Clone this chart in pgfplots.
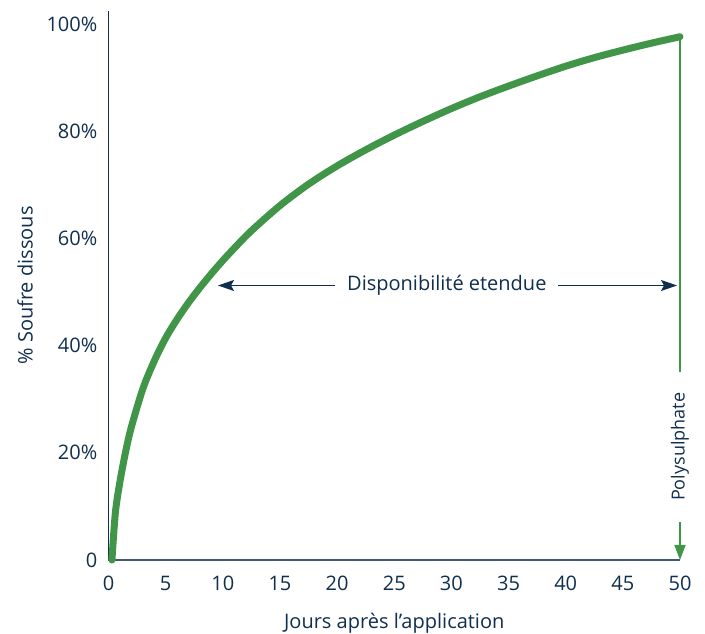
\documentclass[border=0pt]{standalone}
\usepackage{pgfplots}
\pgfplotsset{compat=1.18}
\usetikzlibrary{arrows.meta}
\usepackage{fontspec}
\setmainfont{Open Sans}

\definecolor{navy}{HTML}{102E4D}
\definecolor{axisgray}{HTML}{3F5A75}
\definecolor{leaf}{HTML}{409548}

\pgfplotstableread{
x y
0.3 0
0.6 8.8
1.0 14.6
1.5 20.2
2.0 24.8
3.0 31.9
4.0 37.1
5.0 41.4
6.0 44.9
7.0 48.0
8.0 50.8
9.0 53.4
10.0 55.85
11.0 58.15
12.5 61.4
15.0 66.1
17.5 70.1
20.0 73.5
22.5 76.5
25.0 79.25
27.5 81.8
30.0 84.2
32.5 86.4
35.0 88.4
37.5 90.3
40.0 92.1
42.5 93.7
45.0 95.1
47.5 96.4
50.0 97.6
}\dissous

\begin{document}
\fontsize{20pt}{24pt}\selectfont
\begin{tikzpicture}
\begin{axis}[
  anchor=origin, at={(0pt,0pt)},
  scale only axis,
  width=571.5pt, height=549pt,
  xmin=0, xmax=50, ymin=0, ymax=102.4,
  axis x line=bottom, axis y line=left,
  axis line style={-},
  x axis line style={axisgray, line width=1.4pt},
  y axis line style={navy, line width=1.2pt},
  major tick length=0pt,
  xtick={0,5,...,50},
  xticklabels={0,5,10,15,20,25,30,35,40,45,50},
  ytick={0,20,40,60,80,100},
  yticklabels={0,20\%,40\%,60\%,80\%,100\%},
  tick label style={navy, inner sep=0pt},
  xticklabel style={anchor=north, yshift=-16pt},
  yticklabel style={anchor=east, xshift=-11pt},
  xlabel={Jours après l’application},
  ylabel={\% Soufre dissous},
  xlabel style={navy, at={(axis description cs:0.5,-0.1148)}, anchor=center},
  ylabel style={navy, at={(axis description cs:-0.1461,0.5)}, anchor=center, rotate=0},
  clip=false,
]
\addplot[leaf, line width=7pt, line cap=round, line join=round, smooth] table {\dissous};

% Polysulphate marker at day 50
\draw[leaf, line width=1.4pt] (axis cs:50,97.6) -- (axis cs:50,35.1);
\draw[leaf, line width=1.4pt, -{Triangle[length=15pt,width=11pt]}] (axis cs:50,7.1) -- (axis cs:50,0);
\node[navy, rotate=90, font=\fontsize{18pt}{20pt}\selectfont] at (axis cs:50,21.1) {Polysulphate};

% extended availability arrow
\draw[navy, line width=1.2pt, {Stealth[length=16pt,width=11pt,inset=3pt]}-{Stealth[length=16pt,width=11pt,inset=3pt]}]
  (axis cs:9.58,51.2) -- (axis cs:49.74,51.2);
\node[navy, fill=white, inner xsep=12pt, inner ysep=2pt] at (axis cs:29.6,51.2) {Disponibilité etendue};
\end{axis}
\pgfresetboundingbox
\path[use as bounding box] (-108.5pt,-74pt) rectangle (596.5pt,560pt);
\end{tikzpicture}
\end{document}
